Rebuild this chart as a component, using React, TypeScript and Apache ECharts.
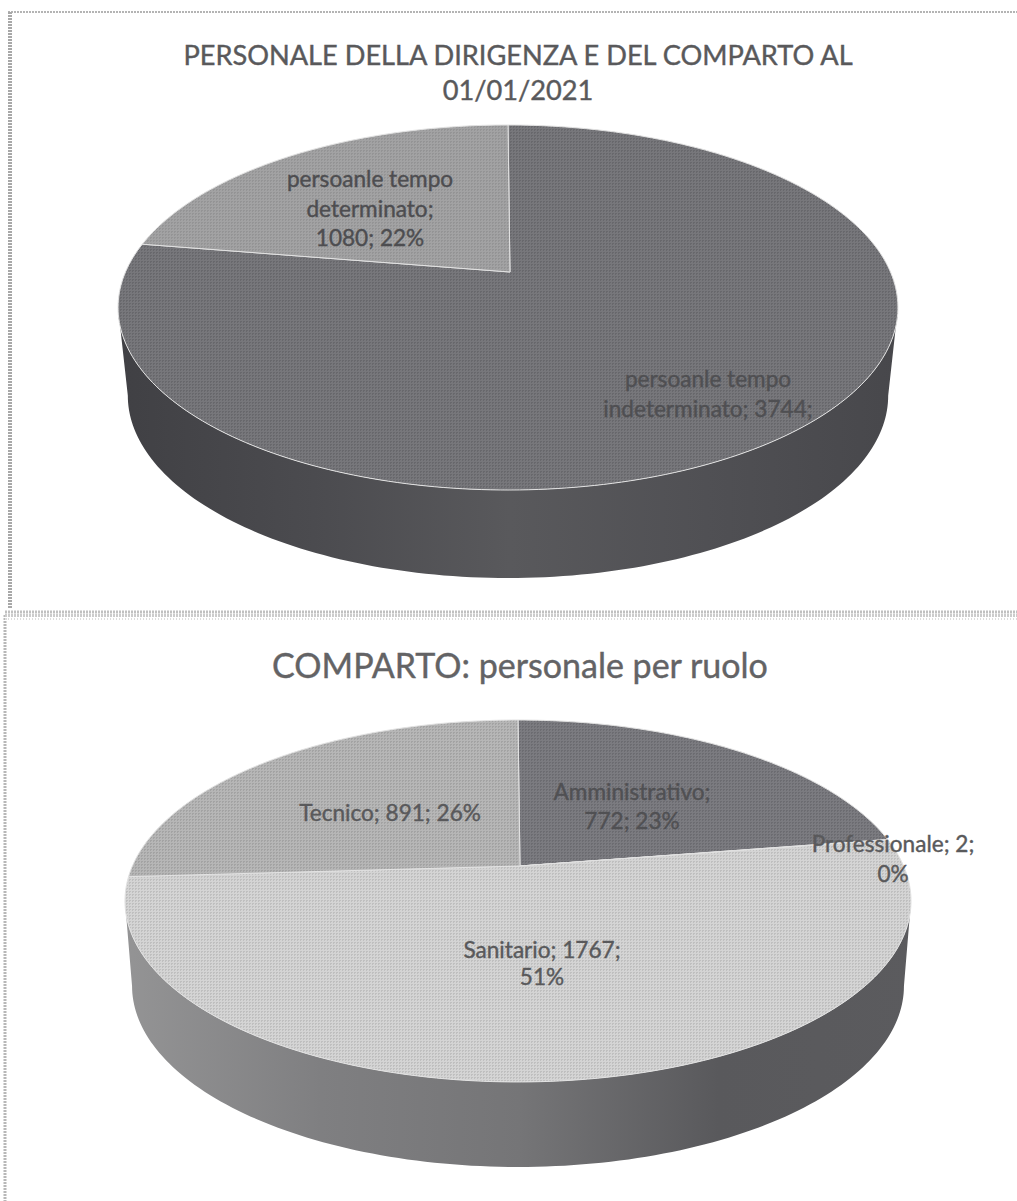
import React, { useEffect, useRef } from "react";
import * as echarts from "echarts";

const titleTop = "PERSONALE DELLA DIRIGENZA E DEL COMPARTO AL\n01/01/2021";
const titleBottom = "COMPARTO: personale per ruolo";

const topNames = ["persoanle tempo indeterminato", "persoanle tempo determinato"];
const topValues = [3744, 1080];
const topLabels = ["persoanle tempo\nindeterminato; 3744;", "persoanle tempo\ndeterminato;\n1080; 22%"];

const bottomNames = ["Amministrativo", "Professionale", "Sanitario", "Tecnico"];
const bottomValues = [772, 2, 1767, 891];
const bottomLabels = ["Amministrativo;\n772; 23%", "Professionale; 2;\n0%", "Sanitario; 1767;\n51%", "Tecnico; 891; 26%"];

const FONT = "Lato, 'Open Sans', sans-serif";

type Geo = {
  ax: number; ay: number; p: number; k: number; R: number; off: number;
  shift: number; baseScale: number;
  fills: string[]; dots: string[]; text: string[];
  sides: string[][];
  labelXY: number[][];
  lineHeights: number[];
};

const topGeo: Geo = {
  ax: 510, ay: 272, p: 0.1945, k: 175.6, R: 382.5, off: -2, shift: 88, baseScale: 0.975,
  fills: ["#77777b", "#a2a2a3"],
  dots: ["#68686c", "#949495"],
  text: ["#4f4f52", "#4d4d50"],
  sides: [["#47474b", "#505054", "#59595c", "#4b4b4f", "#404044"], ["#666", "#666"]],
  labelXY: [[708, 393], [370, 208]],
  lineHeights: [30, 29.5],
};

const bottomGeo: Geo = {
  ax: 520, ay: 866, p: 0.1934, k: 174.2, R: 385.6, off: -2, shift: 85, baseScale: 0.982,
  fills: ["#7b7b80", "#8a8a8a", "#d4d4d4", "#b6b6b6"],
  dots: ["#6c6c71", "#7a7a7a", "#bfbfbf", "#a3a3a3"],
  text: ["#505053", "#59595b", "#59595b", "#59595b"],
  sides: [["#555", "#555"], ["#555", "#555"], ["#5b5b5e", "#59595c", "#757577", "#7f7f81", "#949495"], ["#8f8f8f", "#8f8f8f"]],
  labelXY: [[632, 806], [893, 858], [542, 963], [390, 812]],
  lineHeights: [28.5, 30, 27, 29],
};

function pattern(base: string, dot: string) {
  const c = document.createElement("canvas");
  c.width = 3;
  c.height = 3;
  const g = c.getContext("2d")!;
  g.fillStyle = base;
  g.fillRect(0, 0, 3, 3);
  g.fillStyle = dot;
  g.fillRect(0, 0, 2, 1);
  g.fillRect(0, 1, 1, 1);
  return { image: c, repeat: "repeat" };
}

function project(g: Geo, theta: number, base = false) {
  const u = Math.sin(theta);
  const v = Math.cos(theta);
  const w = 1 + g.p * v;
  const s = base ? g.baseScale : 1;
  return [g.ax + g.off + (g.R * s * u) / w, g.ay - (g.k * v) / w + (base ? g.shift : 0)];
}

function arcAngles(a0: number, a1: number) {
  const n = Math.max(2, Math.ceil(Math.abs(a1 - a0) / 0.02));
  const out: number[] = [];
  for (let i = 0; i <= n; i++) out.push(a0 + ((a1 - a0) * i) / n);
  return out;
}

function sliceRange(values: number[], i: number) {
  const total = values.reduce((a, b) => a + b, 0);
  const before = values.slice(0, i).reduce((a, b) => a + b, 0);
  return [(before / total) * Math.PI * 2, ((before + values[i]) / total) * Math.PI * 2];
}

function topSeries(g: Geo, values: number[], names: string[]) {
  return {
    type: "custom",
    coordinateSystem: "none",
    z: 3,
    silent: true,
    data: values.map((v, i) => ({ name: names[i], value: [v, i] })),
    renderItem: (_p: any, api: any) => {
      const i = api.value(1);
      const [a0, a1] = sliceRange(values, i);
      const pts = arcAngles(a0, a1).map((t) => project(g, t));
      pts.push([g.ax, g.ay]);
      return {
        type: "polygon",
        shape: { points: pts },
        style: { fill: pattern(g.fills[i], g.dots[i]), stroke: "#e2e2e2", lineWidth: 1 },
      };
    },
  };
}

function sideSeries(g: Geo, values: number[], names: string[]) {
  const left = Math.acos(-g.p);
  const right = Math.PI * 2 - left;
  return {
    type: "custom",
    coordinateSystem: "none",
    z: 2,
    silent: true,
    data: values.map((v, i) => ({ name: names[i], value: [v, i] })),
    renderItem: (_p: any, api: any) => {
      const i = api.value(1);
      const [s0, s1] = sliceRange(values, i);
      const a0 = Math.max(s0, left);
      const a1 = Math.min(s1, right);
      if (a1 <= a0) return null;
      const angles = arcAngles(a0, a1);
      const pts = angles.map((t) => project(g, t));
      angles.slice().reverse().forEach((t) => pts.push(project(g, t, true)));
      const stops = g.sides[i];
      const x0 = g.ax - g.R * 1.03;
      const x1 = g.ax + g.R * 1.03;
      return {
        type: "polygon",
        shape: { points: pts },
        style: {
          fill: new echarts.graphic.LinearGradient(
            x1, 0, x0, 0,
            stops.map((color, j) => ({ offset: j / (stops.length - 1), color })),
            true
          ),
        },
      };
    },
  };
}

function labelSeries(g: Geo, values: number[], labels: string[], fontSize: number) {
  return {
    type: "custom",
    coordinateSystem: "none",
    z: 4,
    silent: true,
    data: values.map((v, i) => ({ value: [v, i] })),
    renderItem: (_p: any, api: any) => {
      const i = api.value(1);
      return {
        type: "text",
        x: g.labelXY[i][0],
        y: g.labelXY[i][1],
        style: {
          text: labels[i],
          fill: g.text[i],
          stroke: g.text[i],
          lineWidth: 0.4,
          font: `${fontSize}px ${FONT}`,
          align: "center",
          verticalAlign: "middle",
          lineHeight: g.lineHeights[i],
        },
      };
    },
  };
}

export default function App() {
  const ref = useRef<HTMLDivElement>(null);
  useEffect(() => {
    document.body.style.margin = "0";
    document.body.style.overflow = "hidden";
    const chart = echarts.init(ref.current!, undefined, { renderer: "svg" });
    chart.setOption({
      animation: false,
      backgroundColor: "#ffffff",
      title: [
        {
          text: titleTop,
          left: 513,
          top: 32,
          textAlign: "center",
          textStyle: { fontFamily: FONT, fontSize: 27.2, fontWeight: "normal", color: "#59595b", lineHeight: 35, textBorderColor: "#59595b", textBorderWidth: 0.4 },
        },
        {
          text: titleBottom,
          left: 515,
          top: 640,
          textAlign: "center",
          textStyle: { fontFamily: FONT, fontSize: 34, fontWeight: "normal", color: "#636365", lineHeight: 38, textBorderColor: "#636365", textBorderWidth: 0.4 },
        },
      ],
      graphic: [
        { type: "line", shape: { x1: 8, y1: 12, x2: 1017, y2: 12 }, style: { stroke: "#b4b4b4", lineWidth: 2, lineDash: [2, 1] } },
        { type: "line", shape: { x1: 10, y1: 12, x2: 10, y2: 608 }, style: { stroke: "#a8a8a8", lineWidth: 4, lineDash: [2, 1] } },
        { type: "line", shape: { x1: 5, y1: 615, x2: 5, y2: 1201 }, style: { stroke: "#b8b8b8", lineWidth: 3, lineDash: [2, 1] } },
        { type: "line", shape: { x1: 5, y1: 612, x2: 1017, y2: 612 }, style: { stroke: "#c0c0c0", lineWidth: 3, lineDash: [2, 1] } },
        { type: "line", shape: { x1: 5, y1: 615.5, x2: 1017, y2: 615.5 }, style: { stroke: "#cccccc", lineWidth: 3, lineDash: [2, 1] } },
        { type: "line", shape: { x1: 5, y1: 619, x2: 1017, y2: 619 }, style: { stroke: "#dddddd", lineWidth: 2, lineDash: [1, 2] } },
      ],
      series: [
        sideSeries(topGeo, topValues, topNames),
        topSeries(topGeo, topValues, topNames),
        labelSeries(topGeo, topValues, topLabels, 22.6),
        sideSeries(bottomGeo, bottomValues, bottomNames),
        topSeries(bottomGeo, bottomValues, bottomNames),
        labelSeries(bottomGeo, bottomValues, bottomLabels, 22.6),
      ],
    });
    return () => chart.dispose();
  }, []);
  return <div ref={ref} style={{ position: "absolute", left: 0, top: 0, width: 1017, height: 1201 }} />;
}
